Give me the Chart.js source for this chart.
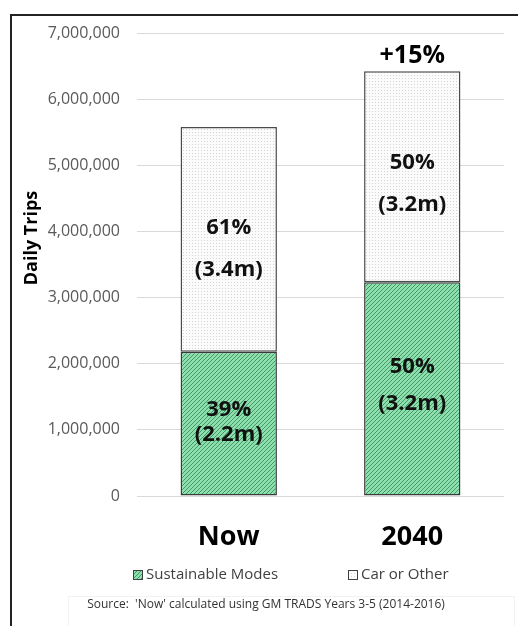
<!DOCTYPE html>
<html>
<head>
<meta charset="utf-8">
<script src="https://cdn.jsdelivr.net/npm/chart.js@4/dist/chart.umd.min.js"></script>
<style>
  html, body { margin: 0; padding: 0; background: #fff; }
  #wrap { position: relative; width: 518px; height: 626px; }
  #frame { position: absolute; left: 10px; top: 14px; right: -2px; bottom: -2px; border-left: 2px solid #222; border-top: 2px solid #222; pointer-events: none; }
</style>
</head>
<body>
<div id="wrap">
  <canvas id="chartCanvas" width="518" height="626"></canvas>
  <div id="frame"></div>
</div>
<script>
(function() {
  'use strict';

  var categories = ['Now', '2040'];
  var sustainableTrips = [2180000, 3230000];
  var carTrips = [3400000, 3190000];
  var sustainableLabels = [['39%', '(2.2m)'], ['50%', '(3.2m)']];
  var carLabels = [['61%', '(3.4m)'], ['50%', '(3.2m)']];
  var growthLabel = '+15%';
  var yTicks = [0, 1000000, 2000000, 3000000, 4000000, 5000000, 6000000, 7000000];
  var yTitle = 'Daily Trips';
  var sourceNote = "Source:  'Now' calculated using GM TRADS Years 3-5 (2014-2016)";

  var FONT = '"Open Sans", "Liberation Sans", sans-serif';

  function hatchPattern() {
    var c = document.createElement('canvas');
    c.width = 4; c.height = 4;
    var g = c.getContext('2d');
    g.fillStyle = '#8fdeae';
    g.fillRect(0, 0, 4, 4);
    g.strokeStyle = '#3f9a66';
    g.lineWidth = 1;
    g.beginPath();
    g.moveTo(-1, 5); g.lineTo(5, -1);
    g.moveTo(-1, 1); g.lineTo(1, -1);
    g.moveTo(3, 5); g.lineTo(5, 3);
    g.stroke();
    return g.createPattern(c, 'repeat');
  }

  function dotPattern() {
    var c = document.createElement('canvas');
    c.width = 3; c.height = 3;
    var g = c.getContext('2d');
    g.fillStyle = '#fbfbfb';
    g.fillRect(0, 0, 3, 3);
    g.fillStyle = '#d4d4d4';
    g.fillRect(0, 0, 1, 1);
    return g.createPattern(c, 'repeat');
  }

  // y offsets (px from segment centre) for the two text lines of each segment
  var labelOffsets = {
    0: [[-14, 11], [-22, 15]],
    1: [[-12, 30], [-14, 28]]
  };

  var segmentLabels = {
    id: 'segmentLabels',
    afterDatasetsDraw: function(chart) {
      var ctx = chart.ctx;
      var texts = [sustainableLabels, carLabels];
      ctx.save();
      ctx.textAlign = 'center';
      ctx.textBaseline = 'middle';
      ctx.fillStyle = '#111';
      ctx.font = 'bold 22px ' + FONT;
      [0, 1].forEach(function(di) {
        var meta = chart.getDatasetMeta(di);
        meta.data.forEach(function(bar, i) {
          var mid = (bar.y + bar.base) / 2;
          var off = labelOffsets[di][i];
          ctx.fillText(texts[di][i][0], bar.x, mid + off[0]);
          ctx.fillText(texts[di][i][1], bar.x, mid + off[1]);
        });
      });
      var top = chart.getDatasetMeta(1).data[1];
      ctx.font = 'bold 25px ' + FONT;
      ctx.fillStyle = '#000';
      ctx.fillText(growthLabel, top.x, top.y - 15);
      ctx.restore();
    }
  };

  // axis title, legend row and source note
  var extras = {
    id: 'extras',
    afterDraw: function(chart) {
      var ctx = chart.ctx;
      var ds = chart.data.datasets;
      ctx.save();

      ctx.translate(32, 238);
      ctx.rotate(-Math.PI / 2);
      ctx.font = 'bold 18px ' + FONT;
      ctx.textAlign = 'center';
      ctx.textBaseline = 'middle';
      ctx.fillStyle = '#000';
      ctx.fillText(yTitle, 0, 0);
      ctx.setTransform(1, 0, 0, 1, 0, 0);

      var lx = [133, 348];
      var ly = 575;
      ctx.font = '15px ' + FONT;
      ctx.textAlign = 'left';
      ds.forEach(function(d, i) {
        ctx.fillStyle = d.backgroundColor;
        ctx.fillRect(lx[i], ly - 5, 10, 10);
        ctx.strokeStyle = '#404040';
        ctx.lineWidth = 1;
        ctx.strokeRect(lx[i] + 0.5, ly - 4.5, 9, 9);
        ctx.fillStyle = '#404040';
        ctx.fillText(d.label, lx[i] + 13, ly);
      });

      ctx.strokeStyle = '#f2f2f2';
      ctx.strokeRect(68.5, 596.5, 446, 40);
      ctx.font = '12px ' + FONT;
      ctx.textAlign = 'center';
      ctx.fillStyle = '#333';
      ctx.fillText(sourceNote, 266, 605);
      ctx.restore();
    }
  };

  function init() {
    var ctx = document.getElementById('chartCanvas').getContext('2d');
    new Chart(ctx, {
      type: 'bar',
      data: {
        labels: categories,
        datasets: [{
          label: 'Sustainable Modes',
          data: sustainableTrips,
          backgroundColor: hatchPattern(),
          borderColor: '#3a3a3a',
          borderWidth: 1.5,
          borderSkipped: false
        }, {
          label: 'Car or Other',
          data: carTrips,
          backgroundColor: dotPattern(),
          borderColor: '#4a4a4a',
          borderWidth: 1.5,
          borderSkipped: false
        }]
      },
      options: {
        responsive: false,
        animation: false,
        layout: { padding: { left: 12, right: 14, top: 33, bottom: 0 } },
        categoryPercentage: 1,
        barPercentage: 0.525,
        scales: {
          x: {
            stacked: true,
            afterFit: function(axis) { axis.height = 130; },
            grid: { display: false, drawTicks: false },
            border: { display: false },
            ticks: { color: '#000', padding: 25, font: { family: FONT, size: 27, weight: 'bold' } }
          },
          y: {
            stacked: true,
            min: 0,
            max: 7000000,
            afterBuildTicks: function(axis) {
              axis.ticks = yTicks.map(function(v) { return { value: v }; });
            },
            afterFit: function(axis) { axis.width = 125; },
            grid: { color: '#d9d9d9', drawTicks: false },
            border: { display: false },
            ticks: {
              color: '#595959',
              padding: 17,
              font: { family: FONT, size: 16 },
              callback: function(v) { return Number(v).toLocaleString('en-US'); }
            }
          }
        },
        plugins: {
          legend: { display: false },
          tooltip: { enabled: false }
        }
      },
      plugins: [segmentLabels, extras]
    });
  }

  document.addEventListener('DOMContentLoaded', init);
})();
</script>
</body>
</html>
